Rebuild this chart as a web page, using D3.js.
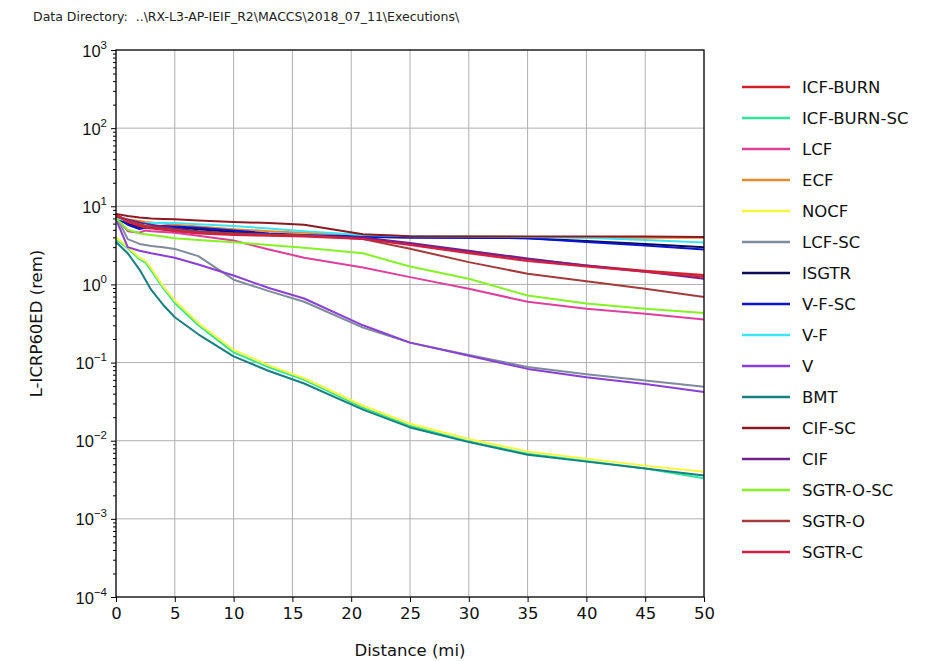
<!DOCTYPE html>
<html>
<head>
<meta charset="utf-8">
<script src="https://cdn.jsdelivr.net/npm/d3@7"></script>
<style>
  html, body { margin: 0; padding: 0; background: #fff; }
  svg { display: block; font-family: "DejaVu Sans", sans-serif; }
</style>
</head>
<body>
<svg id="chart" width="948" height="661"></svg>
<script>
// Downwind distances (mi) at which the dose is reported
const distances = [0, 1, 2, 2.5, 3, 4, 5, 7, 10, 13, 16, 21, 25, 30, 35, 40, 45, 50];

// Dose (rem) per source term, one value per distance
const icfBurn   = [7.8, 6.5, 5.8, 5.6, 5.4, 5.1, 4.9, 4.6, 4.4, 4.3, 4.2, 3.9, 3.3, 2.6, 2.1, 1.75, 1.5, 1.32];
const icfBurnSc = [3.8, 2.9, 2.1, 1.9, 1.5, 0.9, 0.58, 0.3, 0.135, 0.087, 0.06, 0.0265, 0.0155, 0.0098, 0.0068, 0.0055, 0.0044, 0.0033];
const lcf       = [7.2, 4.8, 4.6, 4.9, 4.8, 4.7, 4.6, 4.2, 3.65, 2.8, 2.2, 1.65, 1.24, 0.88, 0.6, 0.49, 0.42, 0.355];
const ecf       = [7.3, 6.8, 6.5, 6.3, 6.2, 6.0, 5.8, 5.5, 5.1, 4.8, 4.6, 4.3, 4.15, 4.1, 4.05, 4.0, 3.95, 3.95];
const nocf      = [4.0, 3.0, 2.2, 2.0, 1.6, 0.95, 0.62, 0.32, 0.145, 0.092, 0.063, 0.028, 0.0165, 0.0105, 0.0073, 0.0059, 0.0048, 0.0040];
const lcfSc     = [7.5, 3.8, 3.3, 3.2, 3.1, 3.0, 2.85, 2.3, 1.15, 0.82, 0.6, 0.28, 0.18, 0.125, 0.088, 0.071, 0.059, 0.049];
const isgtr     = [7.0, 6.0, 5.4, 5.4, 5.5, 5.5, 5.4, 5.1, 4.7, 4.4, 4.2, 4.05, 4.0, 3.95, 3.9, 3.6, 3.3, 3.0];
const vfSc      = [7.2, 5.8, 5.1, 5.3, 5.5, 5.6, 5.5, 5.3, 4.9, 4.5, 4.3, 4.1, 4.0, 3.95, 3.9, 3.5, 3.15, 2.8];
const vf        = [7.0, 6.5, 6.1, 6.1, 6.1, 6.1, 6.1, 5.9, 5.6, 5.2, 4.8, 4.3, 4.15, 4.1, 4.05, 3.95, 3.7, 3.45];
const vSeries   = [6.8, 3.0, 2.7, 2.6, 2.5, 2.35, 2.2, 1.8, 1.3, 0.9, 0.66, 0.3, 0.18, 0.122, 0.083, 0.065, 0.053, 0.042];
const bmt       = [3.5, 2.5, 1.55, 1.15, 0.85, 0.55, 0.38, 0.23, 0.12, 0.078, 0.054, 0.025, 0.0148, 0.0096, 0.0066, 0.0054, 0.0044, 0.0036];
const cifSc     = [8.0, 7.5, 7.2, 7.1, 7.0, 6.9, 6.8, 6.6, 6.3, 6.1, 5.8, 4.4, 4.15, 4.1, 4.1, 4.1, 4.1, 4.05];
const cif       = [7.4, 6.8, 6.2, 6.0, 5.8, 5.5, 5.2, 4.8, 4.5, 4.3, 4.2, 4.0, 3.4, 2.7, 2.15, 1.75, 1.45, 1.18];
const sgtrOSc   = [7.0, 5.0, 4.5, 4.4, 4.3, 4.1, 3.9, 3.7, 3.47, 3.2, 2.95, 2.5, 1.7, 1.18, 0.72, 0.57, 0.49, 0.43];
const sgtrO     = [7.7, 6.6, 5.9, 5.6, 5.5, 5.2, 5.0, 4.7, 4.5, 4.35, 4.25, 3.8, 2.86, 1.93, 1.37, 1.1, 0.88, 0.69];
const sgtrC     = [7.6, 6.3, 5.6, 5.3, 5.2, 5.0, 4.8, 4.5, 4.3, 4.2, 4.1, 3.8, 3.2, 2.5, 2.0, 1.7, 1.45, 1.25];

const seriesNames = ["ICF-BURN", "ICF-BURN-SC", "LCF", "ECF", "NOCF", "LCF-SC", "ISGTR", "V-F-SC",
                     "V-F", "V", "BMT", "CIF-SC", "CIF", "SGTR-O-SC", "SGTR-O", "SGTR-C"];
const seriesValues = [icfBurn, icfBurnSc, lcf, ecf, nocf, lcfSc, isgtr, vfSc,
                      vf, vSeries, bmt, cifSc, cif, sgtrOSc, sgtrO, sgtrC];
const seriesColors = ["#cc2229", "#2ee69a", "#de3f9c", "#e8892a", "#f7f53c", "#7f8a9c", "#0c0c55", "#0a14cc",
                      "#3fe4f2", "#8a3fd6", "#178080", "#8a1a22", "#73228c", "#84f224", "#a43a3a", "#d41f42"];

const xTicks = [0, 5, 10, 15, 20, 25, 30, 35, 40, 45, 50];
const yExponents = [-4, -3, -2, -1, 0, 1, 2, 3];

const titleText = "Data Directory:  ..\\RX-L3-AP-IEIF_R2\\MACCS\\2018_07_11\\Executions\\";

const svg = d3.select("#chart");
const plot = { left: 116, right: 704, top: 50, bottom: 597 };

const x = d3.scaleLinear().domain([0, 50]).range([plot.left, plot.right]);
const y = d3.scaleLog().domain([1e-4, 1e3]).range([plot.bottom, plot.top]);

// header text
svg.append("text")
  .attr("x", 33).attr("y", 21)
  .attr("font-size", 12.5).attr("fill", "#222")
  .style("white-space", "pre")
  .text(titleText);

// grid lines
const grid = svg.append("g").attr("stroke", "#b0b0b0").attr("stroke-width", 1);
xTicks.forEach(t => {
  grid.append("line").attr("x1", x(t)).attr("x2", x(t))
    .attr("y1", plot.top).attr("y2", plot.bottom);
});
yExponents.forEach(e => {
  grid.append("line").attr("x1", plot.left).attr("x2", plot.right)
    .attr("y1", y(Math.pow(10, e))).attr("y2", y(Math.pow(10, e)));
});

// series lines, drawn in legend order
const line = d3.line()
  .x((d, i) => x(distances[i]))
  .y(d => y(d));

const lines = svg.append("g").attr("fill", "none").attr("stroke-width", 2).attr("stroke-linejoin", "round");
seriesValues.forEach((vals, k) => {
  lines.append("path")
    .attr("d", line(vals))
    .attr("stroke", seriesColors[k]);
});

// frame
svg.append("rect")
  .attr("x", plot.left).attr("y", plot.top)
  .attr("width", plot.right - plot.left).attr("height", plot.bottom - plot.top)
  .attr("fill", "none").attr("stroke", "#000").attr("stroke-width", 1.2);

// x axis
const xAxis = d3.axisBottom(x).tickValues(xTicks).tickSize(5).tickPadding(5).tickFormat(d3.format("d"));
const gx = svg.append("g").attr("transform", `translate(0,${plot.bottom})`).call(xAxis);
gx.select(".domain").remove();
gx.selectAll("text").attr("font-size", 16.5).attr("fill", "#111").attr("font-family", "DejaVu Sans");
gx.selectAll("line").attr("stroke", "#000");

// y axis: major decade ticks and minor ticks
const minorVals = [];
for (let e = -4; e < 3; e++) for (let m = 2; m <= 9; m++) minorVals.push(m * Math.pow(10, e));
const gyMinor = svg.append("g").attr("transform", `translate(${plot.left},0)`)
  .call(d3.axisLeft(y).tickValues(minorVals).tickSize(3).tickFormat(""));
gyMinor.select(".domain").remove();
gyMinor.selectAll("line").attr("stroke", "#000");

const gy = svg.append("g").attr("transform", `translate(${plot.left},0)`)
  .call(d3.axisLeft(y).tickValues(yExponents.map(e => Math.pow(10, e))).tickSize(5).tickFormat(""));
gy.select(".domain").remove();
gy.selectAll("line").attr("stroke", "#000");

gy.selectAll(".tick").each(function(d) {
  const e = Math.round(Math.log10(d));
  const t = d3.select(this).append("text")
    .attr("x", -9).attr("y", 6)
    .attr("text-anchor", "end")
    .attr("font-size", 16.5).attr("fill", "#111");
  t.append("tspan").text("10");
  t.append("tspan").attr("dy", -8).attr("font-size", 11.5).text(e < 0 ? "\u2212" + (-e) : String(e));
});

// axis titles
svg.append("text")
  .attr("x", (plot.left + plot.right) / 2).attr("y", 656)
  .attr("text-anchor", "middle").attr("font-size", 16.5).attr("fill", "#111")
  .text("Distance (mi)");

svg.append("text")
  .attr("transform", `translate(42,${(plot.top + plot.bottom) / 2}) rotate(-90)`)
  .attr("text-anchor", "middle").attr("font-size", 16.5).attr("fill", "#111")
  .text("L-ICRP60ED (rem)");

// legend
const legend = svg.append("g");
seriesNames.forEach((name, k) => {
  const ly = 87 + k * 31;
  legend.append("line")
    .attr("x1", 742).attr("x2", 790).attr("y1", ly).attr("y2", ly)
    .attr("stroke", seriesColors[k]).attr("stroke-width", 2.5);
  legend.append("text")
    .attr("x", 802).attr("y", ly + 6)
    .attr("font-size", 16.5).attr("fill", "#111")
    .text(name);
});
</script>
</body>
</html>
